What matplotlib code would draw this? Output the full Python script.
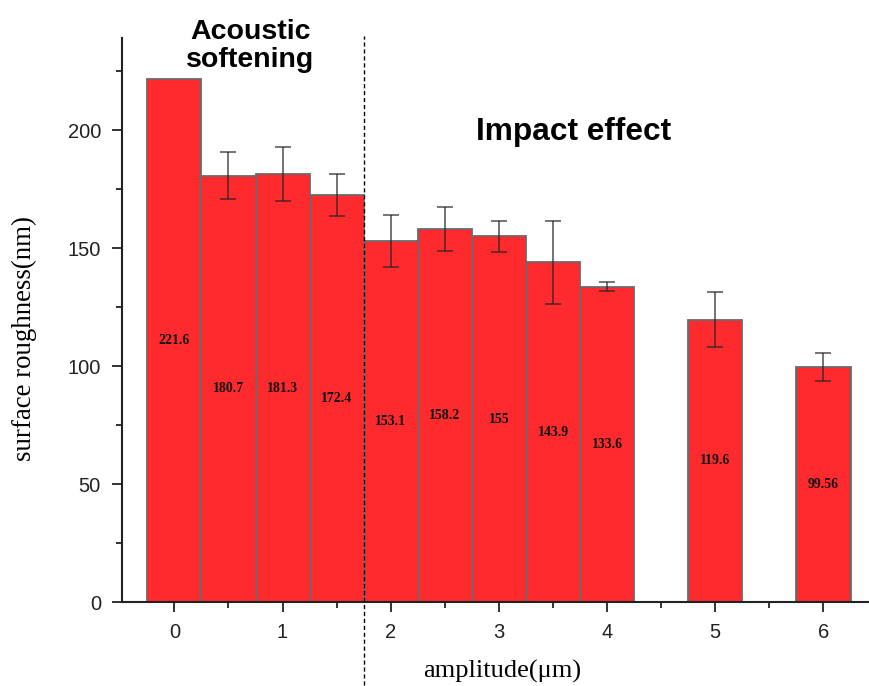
import matplotlib
matplotlib.use('Agg')
import matplotlib.pyplot as plt
from matplotlib.ticker import MultipleLocator

# amplitude (um) e rugosidade media com desvio
amplitude = [0, 0.5, 1, 1.5, 2, 2.5, 3, 3.5, 4, 5, 6]
rugosidade = [221.6, 180.7, 181.3, 172.4, 153.1, 158.2, 155, 143.9, 133.6, 119.6, 99.56]
desvio = [0, 10.0, 11.5, 9.0, 11.0, 9.3, 6.5, 17.7, 1.8, 11.7, 6.0]
rotulos = ['221.6', '180.7', '181.3', '172.4', '153.1', '158.2', '155', '143.9', '133.6', '119.6', '99.56']
ticks_x = [0, 1, 2, 3, 4, 5, 6]

fig = plt.figure(figsize=(8.7, 6.86), dpi=100)
ax = fig.add_axes([0.140, 0.1224, 0.86, 0.8222])

ax.bar(amplitude, rugosidade, width=0.5, color='#FF2A2E',
       edgecolor='#6a6a6a', linewidth=1.3, zorder=2)

# barras de erro (a primeira nao tem)
for x, y, e in zip(amplitude, rugosidade, desvio):
    if e > 0:
        ax.errorbar(x, y, yerr=e, fmt='none', ecolor='#222222',
                    elinewidth=1.1, capsize=5.5, capthick=1.1, alpha=0.8, zorder=3)

# valores dentro das barras, a meia altura
for x, y, txt in zip(amplitude, rugosidade, rotulos):
    ax.text(x, y / 2, txt, ha='center', va='center', fontsize=10,
            fontweight='bold', family='Liberation Serif', color='#111111', zorder=4)

ax.set_xlim(-0.486, 6.43)
ax.set_ylim(0, 239)
ax.set_xticks(ticks_x)
ax.xaxis.set_minor_locator(MultipleLocator(0.5))
ax.yaxis.set_major_locator(MultipleLocator(50))
ax.yaxis.set_minor_locator(MultipleLocator(25))

for s in ['top', 'right']:
    ax.spines[s].set_visible(False)
for s in ['left', 'bottom']:
    ax.spines[s].set_linewidth(1.5)
    ax.spines[s].set_color('#222222')

ax.tick_params(which='major', length=7, width=1.3, labelsize=14.5, pad=8, color='#222222')
ax.tick_params(which='minor', length=4.5, width=1.3, color='#222222')
for lbl in ax.get_xticklabels() + ax.get_yticklabels():
    lbl.set_family('Liberation Sans')
    lbl.set_color('#222222')

ax.set_xlabel('amplitude(μm)', family=['Liberation Serif', 'DejaVu Serif'], fontsize=19)
ax.xaxis.set_label_coords(0.508, -0.103)
ax.set_ylabel('surface roughness(nm)', family='Liberation Serif', fontsize=19.4)
ax.yaxis.set_label_coords(-0.113, 0.467)

# linha divisoria entre as duas zonas
ax.plot([1.75, 1.75], [-35, 240], ls=(0, (3, 2)), color='black', lw=1.0,
        clip_on=False, zorder=5)

ax.text(0.70, 235.5, 'Acoustic\nsoftening', ha='center', va='center', fontsize=20.5,
        fontweight='bold', family='Liberation Sans', linespacing=1.12, clip_on=False)
ax.text(3.69, 199, 'Impact effect', ha='center', va='center', fontsize=22.8,
        fontweight='bold', family='Liberation Sans')

plt.savefig('out.png', dpi=100)
plt.close()
